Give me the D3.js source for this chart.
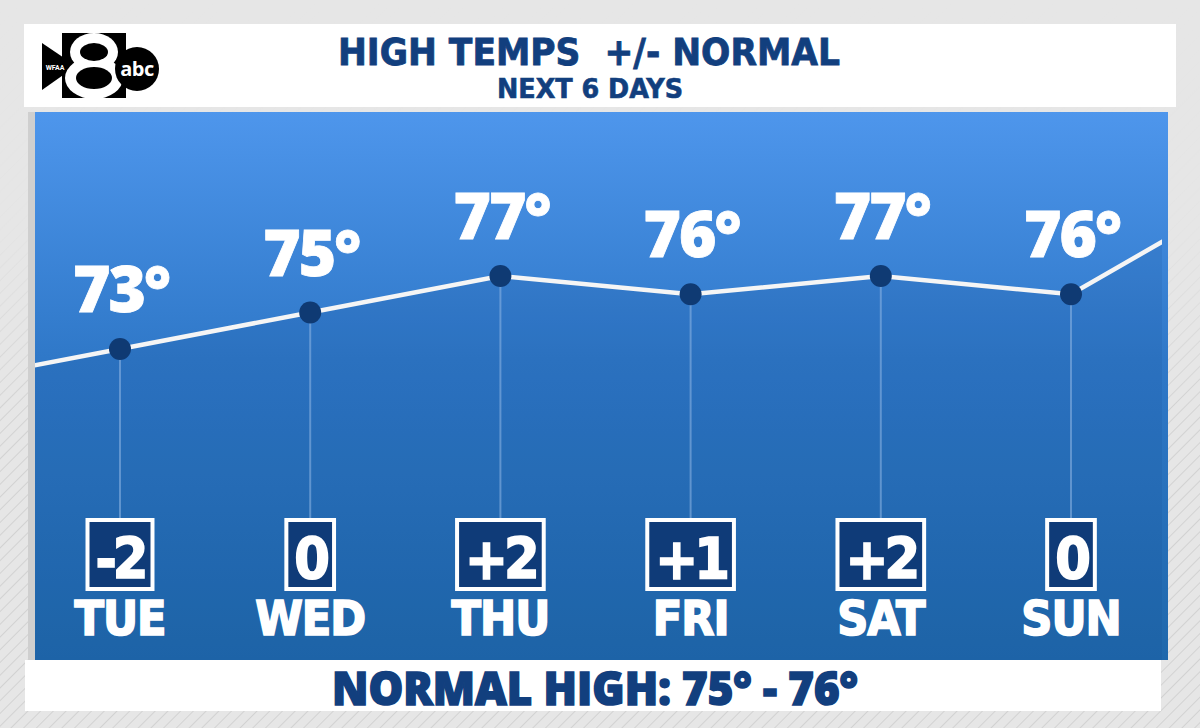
<!DOCTYPE html>
<html><head><meta charset="utf-8">
<script src="https://cdn.jsdelivr.net/npm/d3@7"></script>
<style>html,body{margin:0;padding:0;background:#e3e3e3;}svg{display:block;}</style>
</head><body><svg id="c" width="1200" height="728"></svg>
<script>
// ---- data ----
const days = ["TUE","WED","THU","FRI","SAT","SUN"];
const highs = [73,75,77,76,77,76];
const departures = ["-2","0","+2","+1","+2","0"];
const edgeHighs = [71,82]; // line continues off-panel: previous day, next day
const titleText = "HIGH TEMPS  +/- NORMAL";
const subtitleText = "NEXT 6 DAYS";
const footerText = "NORMAL HIGH: 75° - 76°";

const svg = d3.select("#c");
const defs = svg.append("defs");
const pat = defs.append("pattern").attr("id","hatch").attr("patternUnits","userSpaceOnUse")
  .attr("width",9).attr("height",9).attr("patternTransform","rotate(45)");
pat.append("rect").attr("width",9).attr("height",9).attr("fill","#e6e6e6");
pat.append("line").attr("x1",0).attr("y1",0).attr("x2",0).attr("y2",9).attr("stroke","#d2d2d2").attr("stroke-width",2);
const g1 = defs.append("linearGradient").attr("id","bg").attr("x1",0).attr("y1",0).attr("x2",0).attr("y2",1);
g1.append("stop").attr("offset","0%").attr("stop-color","#4e96ec");
g1.append("stop").attr("offset","45%").attr("stop-color","#2f78c8");
g1.append("stop").attr("offset","100%").attr("stop-color","#1f68ac");
const fadeMask = defs.append("linearGradient").attr("id","fade").attr("x1",0).attr("y1",0).attr("x2",0).attr("y2",1);
fadeMask.append("stop").attr("offset","0%").attr("stop-color","#e6e6e6");
fadeMask.append("stop").attr("offset","55%").attr("stop-color","#e6e6e6").attr("stop-opacity",0.9);
fadeMask.append("stop").attr("offset","100%").attr("stop-color","#e6e6e6").attr("stop-opacity",0);

// background
svg.append("rect").attr("width",1200).attr("height",728).attr("fill","url(#hatch)");
svg.append("rect").attr("width",1200).attr("height",420).attr("fill","url(#fade)");

// panel
const P = {l:35, r:1168, t:112, b:660};
svg.append("rect").attr("x",P.l-7).attr("y",P.t).attr("width",7).attr("height",P.b-P.t).attr("fill","#cfcfcf");
svg.append("rect").attr("x",P.l).attr("y",P.t).attr("width",P.r-P.l).attr("height",P.b-P.t).attr("fill","url(#bg)");
defs.append("clipPath").attr("id","clipP").append("rect").attr("x",P.l).attr("y",P.t).attr("width",1162-P.l).attr("height",P.b-P.t);

// header
svg.append("rect").attr("x",24).attr("y",24).attr("width",1152).attr("height",83).attr("fill","#ffffff");
const navy = "#123f7e";
svg.append("text").attr("x",589).attr("y",65).attr("text-anchor","middle")
  .attr("font-family","'DejaVu Sans Condensed','DejaVu Sans',sans-serif").attr("font-weight","bold")
  .attr("font-size",38).attr("fill",navy).attr("stroke",navy).attr("stroke-width",0.8)
  .attr("textLength",502).attr("lengthAdjust","spacingAndGlyphs")
  .attr("xml:space","preserve").text(titleText);
svg.append("text").attr("x",590).attr("y",98).attr("text-anchor","middle")
  .attr("font-family","'DejaVu Sans Condensed','DejaVu Sans',sans-serif").attr("font-weight","bold")
  .attr("font-size",27).attr("fill",navy).attr("stroke",navy).attr("stroke-width",0.6)
  .attr("textLength",186).attr("lengthAdjust","spacingAndGlyphs")
  .text(subtitleText);

// logo
const logo = svg.append("g");
logo.append("rect").attr("x",62).attr("y",33).attr("width",64).attr("height",65).attr("fill","#000");
logo.append("path").attr("d","M42,43 L76,66 L42,90 Z").attr("fill","#000");
logo.append("ellipse").attr("cx",94).attr("cy",52).attr("rx",24).attr("ry",19).attr("fill","#fff");
logo.append("ellipse").attr("cx",94).attr("cy",78).attr("rx",29).attr("ry",21).attr("fill","#fff");
logo.append("ellipse").attr("cx",94).attr("cy",52).attr("rx",14).attr("ry",9).attr("fill","#000");
logo.append("ellipse").attr("cx",94).attr("cy",78).attr("rx",18).attr("ry",11).attr("fill","#000");
logo.append("text").attr("x",55).attr("y",70).attr("text-anchor","middle").attr("font-family","Roboto,sans-serif")
  .attr("font-size",7).attr("font-weight","bold").attr("fill","#fff").text("WFAA");
logo.append("circle").attr("cx",137).attr("cy",69).attr("r",22).attr("fill","#000");
logo.append("text").attr("x",137).attr("y",76).attr("text-anchor","middle").attr("font-family","'Open Sans',sans-serif")
  .attr("font-size",20).attr("font-weight","bold").attr("fill","#fff").attr("letter-spacing",-0.5).text("abc");

// scales
const x = d3.scaleLinear().domain([0,5]).range([120,1071]);
const y = d3.scaleLinear().domain([73,77]).range([349,276]);

const linePts = [[-1,edgeHighs[0]]].concat(highs.map((h,i)=>[i,h])).concat([[6,edgeHighs[1]]]);
const plot = svg.append("g").attr("clip-path","url(#clipP)");
plot.append("path").datum(linePts)
  .attr("d", d3.area().x(d=>x(d[0])).y0(P.b).y1(d=>y(d[1])))
  .attr("fill","#0d3f80").attr("opacity",0.12);

// drop lines
const boxTop = 518, boxH = 73;
plot.selectAll(".drop").data(highs).join("line")
  .attr("x1",(d,i)=>x(i)).attr("x2",(d,i)=>x(i))
  .attr("y1",d=>y(d)).attr("y2",boxTop)
  .attr("stroke","#8fb6e4").attr("stroke-opacity",0.55).attr("stroke-width",2);

plot.append("path").datum(linePts)
  .attr("d", d3.line().x(d=>x(d[0])).y(d=>y(d[1])))
  .attr("fill","none").attr("stroke","#f5f5f5").attr("stroke-width",4.5);

plot.selectAll(".pt").data(highs).join("circle")
  .attr("cx",(d,i)=>x(i)).attr("cy",d=>y(d)).attr("r",11).attr("fill","#0f3a73");

// temperature labels
svg.selectAll(".tl").data(highs).join("text")
  .attr("x",(d,i)=>x(i)+1).attr("y",d=>y(d)-37)
  .attr("text-anchor","middle").attr("font-family","'Open Sans',sans-serif").attr("font-weight",800)
  .attr("font-size",64).attr("fill","#fff").attr("stroke","#fff").attr("stroke-width",0.8).attr("letter-spacing",-2)
  .text(d=>d+"°");

// departure boxes
const bx = svg.selectAll(".box").data(departures).join("g");
bx.each(function(d,i){
  const g = d3.select(this);
  const r = g.append("rect");
  const r2 = g.append("rect");
  const t = g.append("text").attr("x",x(i)).attr("y",boxTop+61)
    .attr("text-anchor","middle").attr("font-family","'DejaVu Sans Condensed','DejaVu Sans',sans-serif")
    .attr("font-weight","bold").attr("font-size",57).attr("fill","#fff")
    .attr("stroke","#fff").attr("stroke-width",1.6).attr("letter-spacing",-4).text(d);
  const w = t.node().getComputedTextLength() + 20;
  r.attr("x",x(i)-w/2).attr("y",boxTop).attr("width",w).attr("height",boxH).attr("fill","#fff");
  r2.attr("x",x(i)-w/2+4).attr("y",boxTop+4).attr("width",w-8).attr("height",boxH-8).attr("fill","#0f3b78");
});

// day labels
svg.selectAll(".day").data(days).join("text")
  .attr("x",(d,i)=>x(i)).attr("y",635)
  .attr("text-anchor","middle").attr("font-family","'DejaVu Sans Condensed','DejaVu Sans',sans-serif")
  .attr("font-weight","bold").attr("font-size",48).attr("fill","#fff")
  .attr("stroke","#fff").attr("stroke-width",1.6).attr("letter-spacing",-1)
  .text(d=>d);

// footer
svg.append("rect").attr("x",25).attr("y",660).attr("width",1136).attr("height",51).attr("fill","#fff");
svg.append("text").attr("x",595).attr("y",705).attr("text-anchor","middle")
  .attr("font-family","'Open Sans',sans-serif").attr("font-weight",800).attr("font-size",46)
  .attr("fill",navy).attr("stroke",navy).attr("stroke-width",1.6)
  .attr("textLength",526).attr("lengthAdjust","spacingAndGlyphs").text(footerText);
</script></body></html>
